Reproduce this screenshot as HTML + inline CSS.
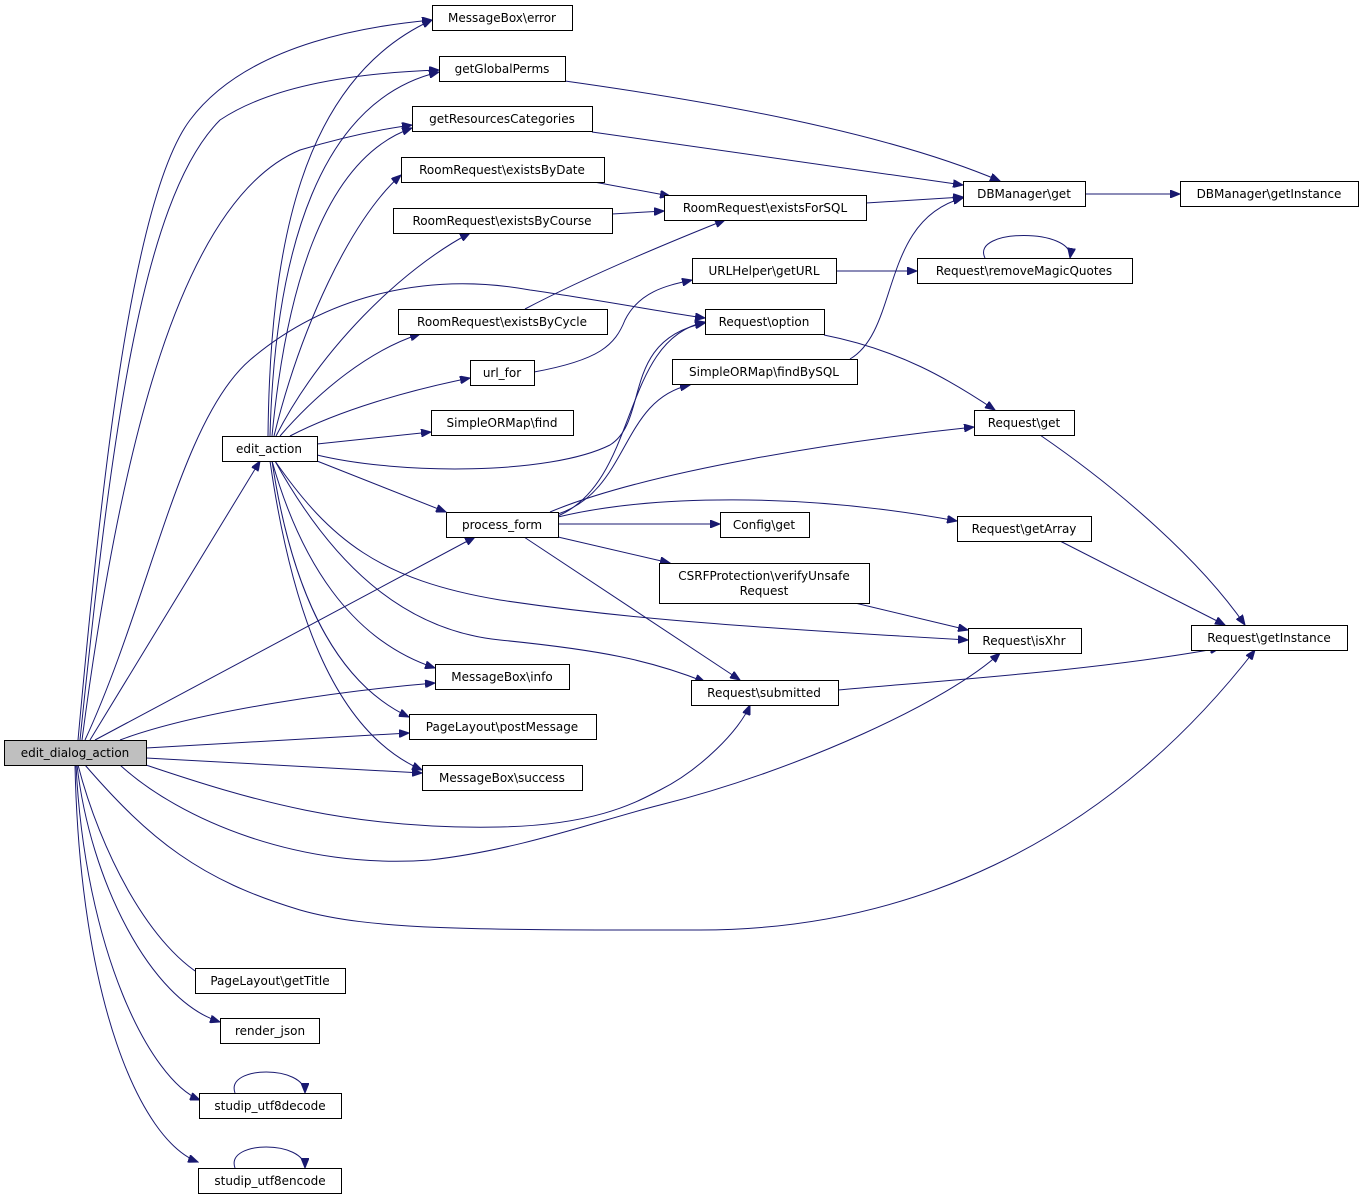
<!DOCTYPE html>
<html><head><meta charset="utf-8"><style>
html,body{margin:0;padding:0;background:#fff;}
svg{display:block;}
text{font-family:"DejaVu Sans","Liberation Sans",sans-serif;font-size:12px;fill:#000;}
.n{fill:#fff;stroke:#000;stroke-width:1;}
.e{fill:none;stroke:#191970;stroke-width:1;marker-end:url(#a);}
</style></head><body>
<svg width="1364" height="1200" viewBox="0 0 1364 1200" xmlns="http://www.w3.org/2000/svg">
<defs><marker id="a" markerUnits="userSpaceOnUse" markerWidth="11" markerHeight="8" refX="10" refY="4" orient="auto"><path d="M0,0 L10,4 L0,8 z" fill="#191970" stroke="#191970"/></marker></defs>
<g>
<path class="e" d="M78,740 C100,500 130,200 190,120 C250,40 380,25 432,20"/>
<path class="e" d="M80,740 C110,450 140,200 220,120 C280,80 380,72 439,70"/>
<path class="e" d="M82,740 C120,450 180,200 300,150 C350,135 390,128 412,125"/>
<path class="e" d="M85,740 C150,600 180,420 250,360 C320,300 420,270 530,290 C600,300 680,315 705,318"/>
<path class="e" d="M90,740 L260,461"/>
<path class="e" d="M95,740 L475,537"/>
<path class="e" d="M120,740 C200,710 350,690 435,683"/>
<path class="e" d="M146,748 L409,733"/>
<path class="e" d="M146,758 L422,773"/>
<path class="e" d="M146,765 C250,800 350,830 500,827 C600,825 640,800 660,790 C700,770 740,730 750,705"/>
<path class="e" d="M120,765 C180,820 300,870 430,860 C520,850 600,820 660,805 C800,770 950,700 1000,653"/>
<path class="e" d="M85,765 C150,840 200,880 300,910 C370,930 470,930 700,930 C900,930 1100,850 1255,650"/>
<path class="e" d="M78,765 C100,850 150,950 210,980"/>
<path class="e" d="M77,765 C90,880 150,1000 220,1022"/>
<path class="e" d="M76,765 C85,950 150,1080 200,1100"/>
<path class="e" d="M75,765 C80,1000 140,1140 198,1162"/>
<path class="e" d="M235,1093 C225,1065 305,1065 305,1093"/>
<path class="e" d="M235,1168 C225,1140 305,1140 305,1168"/>
<path class="e" d="M268,436 C270,250 300,80 432,20"/>
<path class="e" d="M270,436 C275,250 320,100 439,72"/>
<path class="e" d="M272,436 C285,300 320,160 412,128"/>
<path class="e" d="M274,436 C300,330 350,220 401,175"/>
<path class="e" d="M276,436 C320,350 400,270 470,233"/>
<path class="e" d="M280,436 C320,390 370,350 420,334"/>
<path class="e" d="M290,436 C340,410 410,390 470,378"/>
<path class="e" d="M317,444 L431,432"/>
<path class="e" d="M317,455 C400,475 550,475 610,445 C650,420 620,340 705,323"/>
<path class="e" d="M317,461 L446,512"/>
<path class="e" d="M272,461 C300,560 350,640 435,668"/>
<path class="e" d="M272,461 C290,580 330,680 409,717"/>
<path class="e" d="M270,461 C290,600 330,730 422,770"/>
<path class="e" d="M275,461 C330,560 400,630 500,640 C600,650 650,660 705,682"/>
<path class="e" d="M275,461 C330,540 380,580 500,600 C600,615 700,625 968,640"/>
<path class="e" d="M558,516 C640,480 620,340 705,322"/>
<path class="e" d="M558,514 C630,490 620,400 690,385"/>
<path class="e" d="M550,512 C650,470 850,440 974,427"/>
<path class="e" d="M558,524 L720,524"/>
<path class="e" d="M558,517 C650,495 800,492 957,521"/>
<path class="e" d="M558,537 L670,563"/>
<path class="e" d="M524,537 L740,680"/>
<path class="e" d="M594,182 L670,196"/>
<path class="e" d="M612,214 L664,211"/>
<path class="e" d="M525,309 C580,280 650,250 725,220"/>
<path class="e" d="M565,81 C700,100 880,130 1000,181"/>
<path class="e" d="M592,132 L963,185"/>
<path class="e" d="M866,203 L963,197"/>
<path class="e" d="M850,359 C900,330 880,220 963,198"/>
<path class="e" d="M1085,194 L1180,194"/>
<path class="e" d="M534,372 C600,360 615,345 625,320 C640,290 670,285 692,280"/>
<path class="e" d="M836,271 L917,271"/>
<path class="e" d="M985,258 C970,228 1075,228 1070,258"/>
<path class="e" d="M824,335 C900,350 950,380 995,410"/>
<path class="e" d="M1040,435 C1120,490 1200,560 1245,625"/>
<path class="e" d="M1060,541 L1225,625"/>
<path class="e" d="M855,603 L968,630"/>
<path class="e" d="M838,690 C950,680 1100,670 1220,648"/>
</g>
<g>
<rect x="4.5" y="740.5" width="142" height="25" fill="#bfbfbf" stroke="#000"/><text x="75" y="757" text-anchor="middle">edit_dialog_action</text>
<rect class="n" x="432.5" y="5.5" width="140" height="25"/><text x="502" y="22" text-anchor="middle">MessageBox\error</text>
<rect class="n" x="439.5" y="56.5" width="126" height="25"/><text x="502" y="73" text-anchor="middle">getGlobalPerms</text>
<rect class="n" x="412.5" y="106.5" width="180" height="25"/><text x="502" y="123" text-anchor="middle">getResourcesCategories</text>
<rect class="n" x="401.5" y="157.5" width="203" height="25"/><text x="502" y="174" text-anchor="middle">RoomRequest\existsByDate</text>
<rect class="n" x="393.5" y="208.5" width="219" height="25"/><text x="502" y="225" text-anchor="middle">RoomRequest\existsByCourse</text>
<rect class="n" x="398.5" y="309.5" width="209" height="25"/><text x="502" y="326" text-anchor="middle">RoomRequest\existsByCycle</text>
<rect class="n" x="470.5" y="360.5" width="64" height="25"/><text x="502" y="377" text-anchor="middle">url_for</text>
<rect class="n" x="431.5" y="410.5" width="142" height="25"/><text x="502" y="427" text-anchor="middle">SimpleORMap\find</text>
<rect class="n" x="222.5" y="436.5" width="95" height="25"/><text x="269" y="453" text-anchor="middle">edit_action</text>
<rect class="n" x="446.5" y="512.5" width="112" height="25"/><text x="502" y="529" text-anchor="middle">process_form</text>
<rect class="n" x="435.5" y="664.5" width="134" height="25"/><text x="502" y="681" text-anchor="middle">MessageBox\info</text>
<rect class="n" x="409.5" y="714.5" width="187" height="25"/><text x="502" y="731" text-anchor="middle">PageLayout\postMessage</text>
<rect class="n" x="422.5" y="765.5" width="160" height="25"/><text x="502" y="782" text-anchor="middle">MessageBox\success</text>
<rect class="n" x="195.5" y="968.5" width="150" height="25"/><text x="270" y="985" text-anchor="middle">PageLayout\getTitle</text>
<rect class="n" x="220.5" y="1018.5" width="99" height="25"/><text x="270" y="1035" text-anchor="middle">render_json</text>
<rect class="n" x="199.5" y="1093.5" width="142" height="25"/><text x="270" y="1110" text-anchor="middle">studip_utf8decode</text>
<rect class="n" x="198.5" y="1168.5" width="143" height="25"/><text x="270" y="1185" text-anchor="middle">studip_utf8encode</text>
<rect class="n" x="963.5" y="181.5" width="122" height="25"/><text x="1024" y="198" text-anchor="middle">DBManager\get</text>
<rect class="n" x="1180.5" y="181.5" width="178" height="25"/><text x="1269" y="198" text-anchor="middle">DBManager\getInstance</text>
<rect class="n" x="664.5" y="195.5" width="202" height="25"/><text x="765" y="212" text-anchor="middle">RoomRequest\existsForSQL</text>
<rect class="n" x="692.5" y="258.5" width="144" height="25"/><text x="764" y="275" text-anchor="middle">URLHelper\getURL</text>
<rect class="n" x="917.5" y="258.5" width="215" height="25"/><text x="1024" y="275" text-anchor="middle">Request\removeMagicQuotes</text>
<rect class="n" x="705.5" y="309.5" width="119" height="25"/><text x="764" y="326" text-anchor="middle">Request\option</text>
<rect class="n" x="672.5" y="359.5" width="185" height="25"/><text x="764" y="376" text-anchor="middle">SimpleORMap\findBySQL</text>
<rect class="n" x="974.5" y="410.5" width="100" height="25"/><text x="1024" y="427" text-anchor="middle">Request\get</text>
<rect class="n" x="720.5" y="512.5" width="89" height="25"/><text x="764" y="529" text-anchor="middle">Config\get</text>
<rect class="n" x="957.5" y="516.5" width="134" height="25"/><text x="1024" y="533" text-anchor="middle">Request\getArray</text>
<rect class="n" x="659.5" y="563.5" width="210" height="40"/><text x="764" y="580" text-anchor="middle">CSRFProtection\verifyUnsafe</text><text x="764" y="595" text-anchor="middle">Request</text>
<rect class="n" x="968.5" y="628.5" width="113" height="25"/><text x="1024" y="645" text-anchor="middle">Request\isXhr</text>
<rect class="n" x="1191.5" y="625.5" width="156" height="25"/><text x="1269" y="642" text-anchor="middle">Request\getInstance</text>
<rect class="n" x="691.5" y="680.5" width="147" height="25"/><text x="764" y="697" text-anchor="middle">Request\submitted</text>
</g>
</svg>
</body></html>
